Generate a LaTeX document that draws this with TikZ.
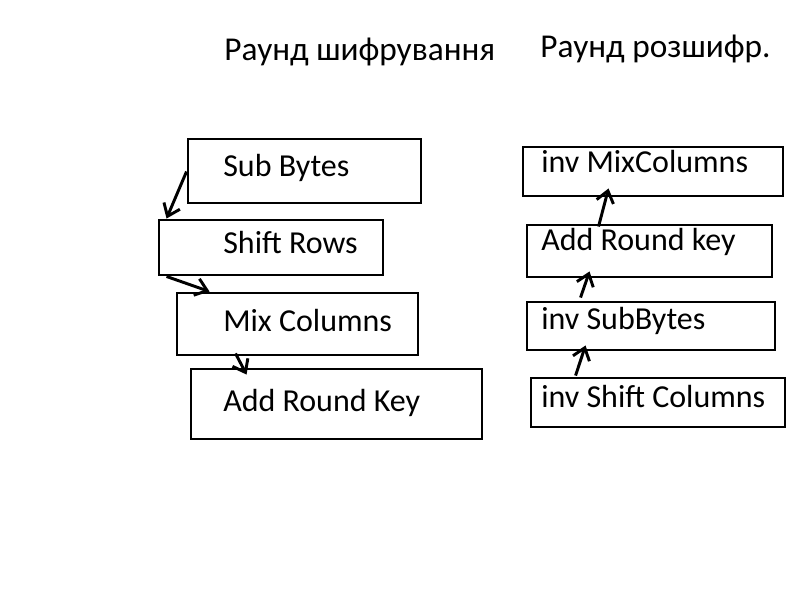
\documentclass[tikz,border=0pt]{standalone}
\usepackage{fontspec}
\setmainfont{Carlito}
\usetikzlibrary{fit,calc,arrows.meta}
\tikzset{
  box/.style={draw, line width=2.2pt, inner sep=0pt, rectangle},
  lbl/.style={anchor=base west, inner sep=0pt, font=\fontsize{24pt}{28pt}\selectfont},
  ttl/.style={anchor=base west, inner sep=0pt, font=\fontsize{25pt}{30pt}\selectfont},
  conn/.style={line width=2.2pt, -{Straight Barb[length=8.5pt,width=13pt,line width=2.2pt]}}
}
\begin{document}
\begin{tikzpicture}[x=0.75pt,y=-0.75pt]
\useasboundingbox (0,0) rectangle (800,600);
% titles
\node[ttl] (t1) at (224,60) {Раунд шифрування};
\node[ttl] (t2) at (540,57) {Раунд розшифр.};
% left column
\node[box, fit={(188,139)(421,203)}] (sb) {};
\node[box, fit={(159,220)(383,275)}] (sr) {};
\node[box, fit={(177,293)(418,355)}] (mc) {};
\node[box, fit={(191,369)(482,439)}] (ark) {};
\node[lbl] (sbt) at (223,176) {Sub Bytes};
\node[lbl] (srt) at (223,253) {Shift Rows};
\node[lbl] (mct) at (223,331) {Mix Columns};
\node[lbl] (arkt) at (223,411) {Add Round Key};
% right column
\node[box, fit={(523,147)(783,196)}] (imc) {};
\node[box, fit={(527,225)(772,277)}] (ark2) {};
\node[box, fit={(527,302)(775,350)}] (isb) {};
\node[box, fit={(531,378)(785,427)}] (isc) {};
\node[lbl] (imct) at (541,172) {inv MixColumns};
\node[lbl] (ark2t) at (541,250) {Add Round key};
\node[lbl] (isbt) at (541,329) {inv SubBytes};
\node[lbl] (isct) at (541,407) {inv Shift Columns};
% left connectors
\draw[conn] ($(sb.north west)+(0,34)$) -- ($(sr.north west)+(9,0)$);
\draw[conn] ($(sr.south west)+(9,0)$) -- ($(mc.north west)+(34,0)$);
\draw[conn] ($(mc.south west)+(60,-3)$) -- ($(ark.north west)+(57,7)$);
% right connectors
\draw[conn] ($(ark2.north west)+(73,3)$) -- ($(imc.south west)+(87,-9)$);
\draw[conn] ($(isb.north west)+(55,-3)$) -- ($(ark2.south west)+(64,-7)$);
\draw[conn] ($(isc.north west)+(46,-1)$) -- ($(isb.south west)+(60,-6)$);
\end{tikzpicture}
\end{document}
